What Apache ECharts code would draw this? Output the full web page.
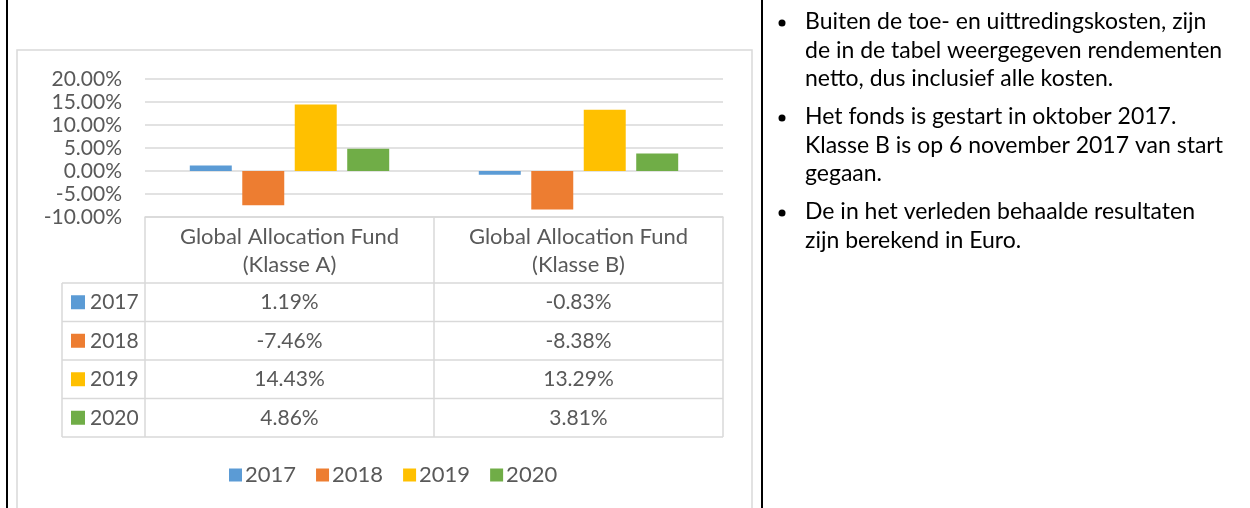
<!DOCTYPE html>
<html>
<head>
<meta charset="utf-8">
<script src="https://cdn.jsdelivr.net/npm/echarts@6/dist/echarts.min.js"></script>
<style>
    html, body { margin: 0; padding: 0; background: #fff; }
    #main { width: 1250px; height: 508px; }
</style>
</head>
<body>
<div id="main"></div>
<script>
// data
var funds = ['Global Allocation Fund\n(Klasse A)', 'Global Allocation Fund\n(Klasse B)'];
var years = ['2017', '2018', '2019', '2020'];
var r2017 = [1.19, -0.83];
var r2018 = [-7.46, -8.38];
var r2019 = [14.43, 13.29];
var r2020 = [4.86, 3.81];
var yMin = -10, yMax = 20, yStep = 5;
var notes = [
    ['Buiten de toe- en uittredingskosten, zijn', 'de in de tabel weergegeven rendementen', 'netto, dus inclusief alle kosten.'],
    ['Het fonds is gestart in oktober 2017.', 'Klasse B is op 6 november 2017 van start', 'gegaan.'],
    ['De in het verleden behaalde resultaten', 'zijn berekend in Euro.']
];

var colors = ['#5B9BD5', '#ED7D31', '#FFC000', '#70AD47'];
var rows = [r2017, r2018, r2019, r2020];
var font = 'Lato, "Open Sans", sans-serif';
var grey = '#595959';
var lineGrey = '#d9d9d9';

var chartDom = document.getElementById('main');
var myChart = echarts.init(chartDom, null, {renderer: 'canvas'});

var series = years.map(function (y, i) {
    return {
        name: y,
        type: 'bar',
        barCategoryGap: '31%',
        barGap: '25%',
        itemStyle: {color: colors[i]},
        data: rows[i]
    };
});

var option = {
    backgroundColor: '#fff',
    animation: false,
    color: colors,
    grid: {left: 145, right: 527, top: 79, bottom: 291},
    xAxis: {
        type: 'category',
        data: funds,
        axisLine: {onZero: false, lineStyle: {color: lineGrey, width: 1.5}},
        axisTick: {show: true, length: 220, alignWithLabel: false, lineStyle: {color: lineGrey, width: 1.5}},
        axisLabel: {fontFamily: font, fontSize: 22, lineHeight: 28, color: grey, margin: 6, interval: 0}
    },
    yAxis: {
        type: 'value',
        min: yMin,
        max: yMax,
        interval: yStep,
        axisLine: {show: false},
        axisTick: {show: false},
        splitLine: {lineStyle: {color: lineGrey, width: 1.5}},
        axisLabel: {
            fontFamily: font, fontSize: 21, color: grey, margin: 23,
            formatter: function (v) { return v.toFixed(2) + '%'; }
        }
    },
    legend: {
        data: years,
        icon: 'rect',
        itemWidth: 13,
        itemHeight: 13,
        itemGap: 20,
        left: 224,
        top: 459,
        textStyle: {fontFamily: font, fontSize: 22, color: grey, padding: [0, 0, 0, -2]}
    },
    series: series
};

myChart.setOption(option);

// data table + page decoration, placed from the axis scale
var y0 = myChart.convertToPixel({yAxisIndex: 0}, yMin);
var xRight = 723;
var headH = 66, rowH = 38.5;
var g = [];

// page borders
g.push({type: 'rect', shape: {x: 6, y: 0, width: 2, height: 508}, style: {fill: '#000'}});
g.push({type: 'rect', shape: {x: 761, y: 0, width: 2, height: 508}, style: {fill: '#000'}});
g.push({type: 'rect', shape: {x: 17, y: 50, width: 735, height: 480}, style: {fill: null, stroke: lineGrey, lineWidth: 1.5}});

var tTop = y0 + headH;
g.push({type: 'line', shape: {x1: 62, y1: tTop, x2: 62, y2: tTop + rowH * 4}, style: {stroke: lineGrey, lineWidth: 1.5}});
for (var k = 0; k <= 4; k++) {
    g.push({type: 'line', shape: {x1: 62, y1: tTop + rowH * k, x2: xRight, y2: tTop + rowH * k}, style: {stroke: lineGrey, lineWidth: 1.5}});
}
rows.forEach(function (vals, i) {
    var cy = tTop + rowH * i + rowH / 2;
    g.push({type: 'rect', shape: {x: 71, y: cy - 7, width: 14, height: 14}, style: {fill: colors[i]}});
    g.push({type: 'text', x: 90, y: cy, style: {text: years[i], fontFamily: font, fontSize: 21, fill: grey, verticalAlign: 'middle', align: 'left'}});
    vals.forEach(function (v, j) {
        var cx = myChart.convertToPixel({xAxisIndex: 0}, j);
        g.push({type: 'text', x: cx, y: cy, style: {text: v.toFixed(2) + '%', fontFamily: font, fontSize: 21, fill: grey, verticalAlign: 'middle', align: 'center'}});
    });
});

// notes on the right
var ly = 22, lh = 28.5, pGap = 9.5;
notes.forEach(function (para) {
    g.push({type: 'circle', shape: {cx: 782, cy: ly + 1, r: 3.5}, style: {fill: '#000'}});
    para.forEach(function (line) {
        g.push({type: 'text', x: 805, y: ly, style: {text: line, fontFamily: font, fontSize: 23, fill: '#000', verticalAlign: 'middle', align: 'left'}});
        ly += lh;
    });
    ly += pGap;
});

myChart.setOption({graphic: g});
</script>
</body>
</html>
